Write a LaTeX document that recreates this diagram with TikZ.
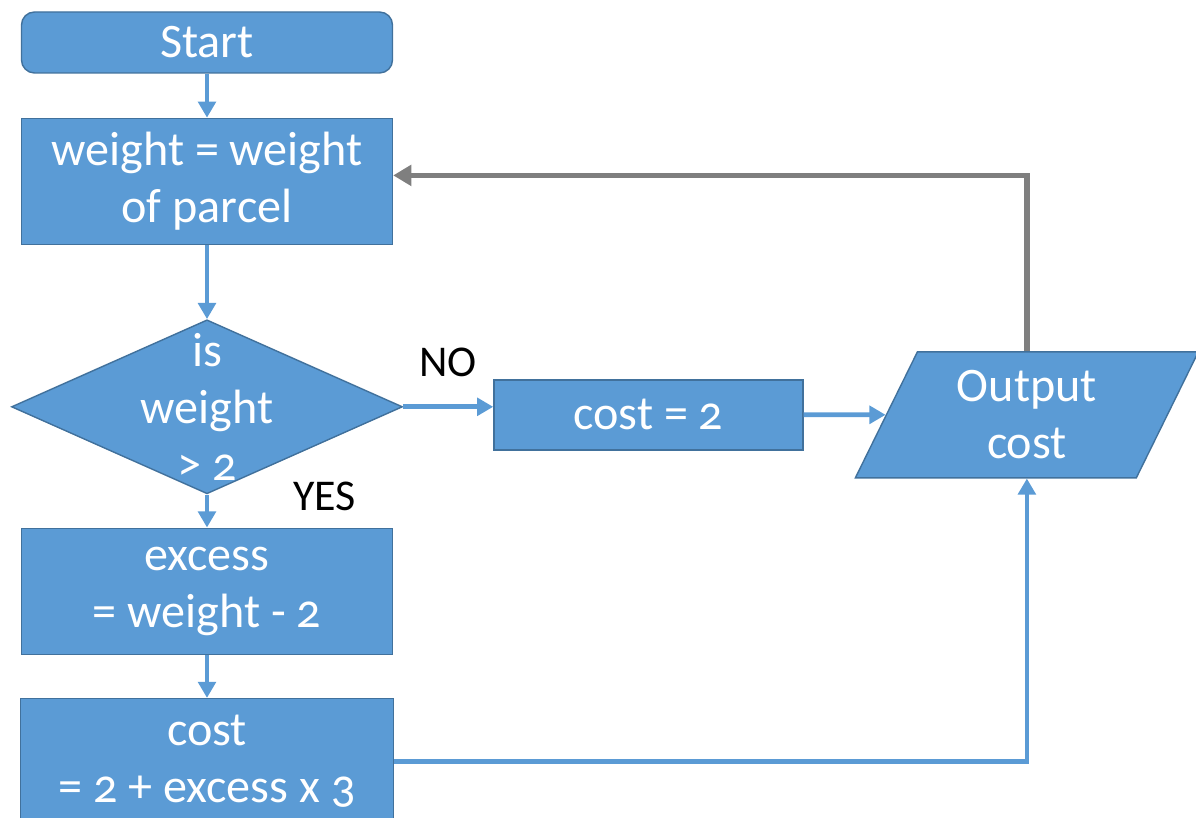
\documentclass[tikz,border=0pt]{standalone}
\usepackage{fontspec}
\setmainfont{Carlito}[Numbers=OldStyle]
\usetikzlibrary{positioning,arrows.meta,shapes.geometric}

\definecolor{boxblue}{HTML}{5B9BD5}
\definecolor{boxedge}{HTML}{41719C}
\definecolor{loopgrey}{HTML}{7F7F7F}

\begin{document}
\begin{tikzpicture}[
    procnode/.style={rectangle, draw=boxedge, fill=boxblue, text=white, align=center,
        font=\fontsize{13.7pt}{16.2pt}\selectfont, inner sep=2pt,
        minimum width=3.71cm, minimum height=1.26cm},
    startnode/.style={procnode, rounded corners=0.13cm, minimum height=0.61cm},
    decnode/.style={diamond, draw=boxedge, fill=boxblue, inner sep=0pt,
        minimum width=3.91cm, minimum height=1.74cm},
    outnode/.style={trapezium, trapezium left angle=61, trapezium right angle=119,
        trapezium stretches body=true, draw=boxedge, fill=boxblue, text=white,
        align=center, font=\fontsize{13.7pt}{16.2pt}\selectfont,
        minimum width=3.43cm, minimum height=1.26cm},
    lbl/.style={text=black, inner sep=0pt, font=\fontsize{12.5pt}{15pt}\selectfont},
    flow/.style={-{Triangle[length=4.6pt, width=5pt]}, draw=boxblue, line width=1.35pt},
    back/.style={-{Triangle[length=5.2pt, width=5.8pt]}, draw=loopgrey, line width=1.6pt}
    ]
        \useasboundingbox (0,0) rectangle (11.96,-8.18);

        %Nodes
        \node[startnode]
            (start)  at (2.07,-0.425)           {Start};
        \node[procnode]
            (weight) [below=0.44cm of start]    {weight = weight\\of parcel};
        \node[decnode,
            label={[text=white, align=center, font=\fontsize{13.7pt}{16.2pt}\selectfont]center:is\\weight\\> 2}]
            (dec)    [below=0.74cm of weight]   {};
        \node[procnode]
            (excess) [below=0.33cm of dec]      {excess\\= weight - 2};
        \node[procnode, minimum width=3.73cm]
            (cost)   [below=0.43cm of excess]   {cost\\= 2 + excess x 3};
        \node[procnode, minimum width=3.09cm, minimum height=0.70cm]
            (two)    [right=0.9cm of dec, yshift=-0.08cm] {cost = 2};
        \node[outnode]
            (out)    [right=0.82cm of two]      {Output\\cost};

        %Lines
        \draw[flow] (start) -- (weight);
        \draw[flow] (weight) -- (dec);
        \draw[flow]
            (dec.east) -- node[lbl, above=0.28cm] {NO} (dec.east -| two.west);
        \draw[flow]
            (dec) -- node[lbl, pos=0.05, right=0.84cm] {YES} (excess);
        \draw[flow] (excess) -- (cost);
        \draw[flow] (two) -- (out);
        \draw[flow] (cost.east) -| (out.south);
        \draw[back] (out.north) |- ([yshift=0.06cm]weight.east);
    \end{tikzpicture}
\end{document}
